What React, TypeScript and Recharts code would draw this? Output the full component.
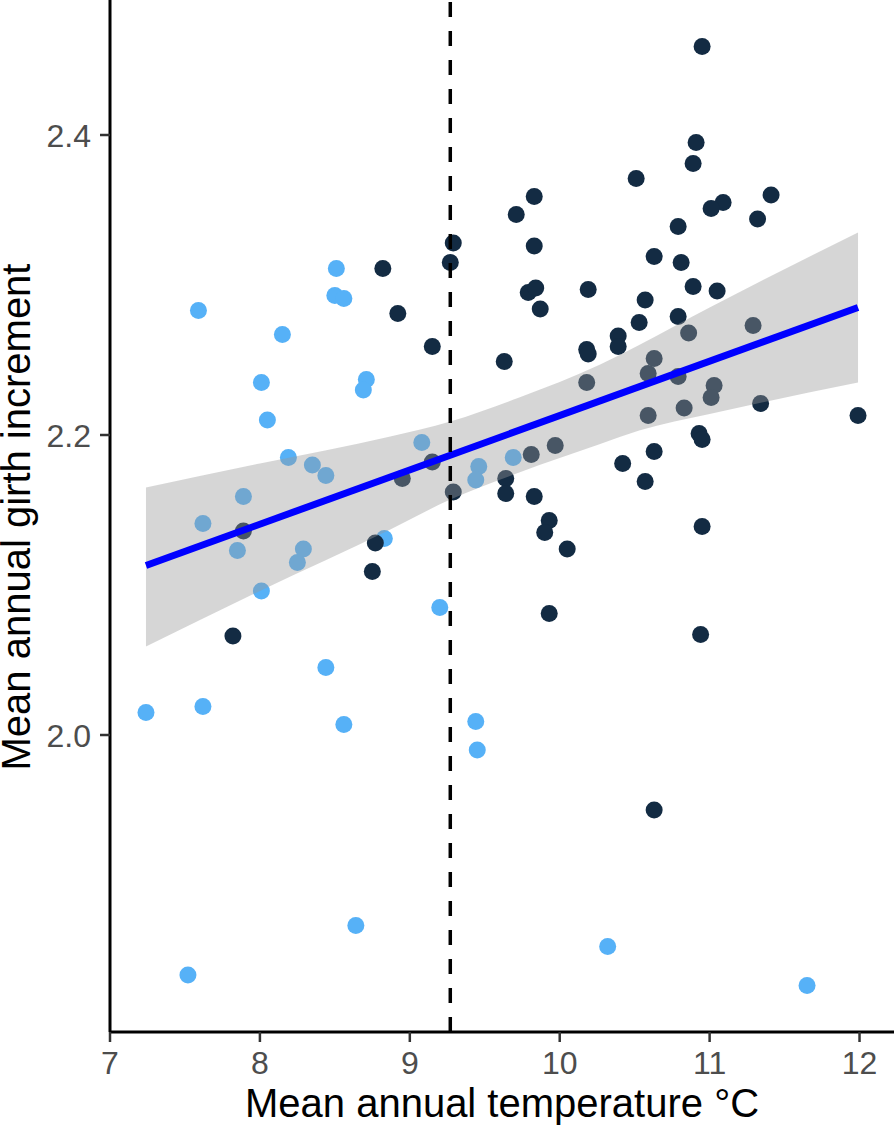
import { Area, ComposedChart, Label, Line, ReferenceLine, Scatter, XAxis, YAxis } from 'recharts'

// sites below the threshold temperature (light) and above it (dark)
const coolTemp = [7.59, 8.51, 8.5, 8.56, 8.15, 8.01, 8.71, 8.69, 8.05, 8.19, 8.35, 8.44, 7.89, 7.62, 7.85, 8.29, 8.25, 8.83, 8.01, 8.44, 7.24, 7.62, 8.56, 9.2, 9.44, 9.45, 8.64, 7.52, 10.32, 11.65, 9.08, 9.46, 9.44, 9.69]
const coolGirth = [2.283, 2.311, 2.293, 2.291, 2.267, 2.235, 2.237, 2.23, 2.21, 2.185, 2.18, 2.173, 2.159, 2.141, 2.123, 2.124, 2.115, 2.131, 2.096, 2.045, 2.015, 2.019, 2.007, 2.085, 2.009, 1.99, 1.873, 1.84, 1.859, 1.833, 2.195, 2.179, 2.17, 2.185]

const warmTemp = [10.95, 10.91, 10.89, 10.51, 11.41, 11.09, 11.01, 11.32, 10.79, 10.63, 10.81, 10.89, 11.05, 10.57, 10.53, 10.79, 10.39, 10.39, 10.86, 11.29, 9.83, 9.71, 9.29, 9.27, 9.83, 8.82, 8.92, 9.79, 9.84, 9.87, 10.19, 9.15, 9.63, 10.18, 10.19, 10.18, 10.63, 10.59, 10.59, 9.97, 9.81, 9.15, 8.95, 10.42, 10.63, 10.57, 9.64, 9.64, 9.29, 9.83, 10.79, 11.03, 11.01, 10.83, 11.34, 11.99, 10.93, 10.95, 10.95, 10.94, 7.89, 8.77, 8.75, 7.82, 9.93, 9.9, 10.05, 9.93, 10.63]
const warmGirth = [2.459, 2.395, 2.381, 2.371, 2.36, 2.355, 2.351, 2.344, 2.339, 2.319, 2.315, 2.299, 2.296, 2.29, 2.275, 2.279, 2.266, 2.259, 2.268, 2.273, 2.359, 2.347, 2.328, 2.315, 2.326, 2.311, 2.281, 2.295, 2.298, 2.284, 2.297, 2.259, 2.249, 2.257, 2.254, 2.235, 2.251, 2.241, 2.213, 2.193, 2.187, 2.182, 2.171, 2.181, 2.189, 2.169, 2.171, 2.161, 2.162, 2.159, 2.239, 2.233, 2.225, 2.218, 2.221, 2.213, 2.201, 2.197, 2.139, 2.067, 2.136, 2.128, 2.109, 2.066, 2.143, 2.135, 2.124, 2.081, 1.95]

// linear fit and its confidence band
const bandTemp = [7.24, 8.0, 8.87, 9.27, 9.73, 10.27, 10.53, 11.0, 11.99]
const bandLow = [2.059, 2.096, 2.137, 2.157, 2.175, 2.194, 2.203, 2.214, 2.235]
const bandHigh = [2.165, 2.181, 2.199, 2.209, 2.225, 2.247, 2.26, 2.285, 2.335]
const fitTemp = [7.24, 11.99]
const fitGirth = [2.113, 2.285]

const threshold = 9.27
const xTicks = [7, 8, 9, 10, 11, 12]
const yTicks = [2.0, 2.2, 2.4]

const cool = coolTemp.map((t, i) => ({ x: t, y: coolGirth[i] }))
const warm = warmTemp.map((t, i) => ({ x: t, y: warmGirth[i] }))
const table = bandTemp.map((t, i) => {
  const k = fitTemp.indexOf(t)
  return { x: t, band: [bandLow[i], bandHigh[i]], fit: k >= 0 ? fitGirth[k] : null }
})

const FONT = '"Liberation Sans", Arial, Helvetica, sans-serif'

function Dot(color: string) {
  return (p: any) => <circle cx={p.cx} cy={p.cy} r={8.5} fill={color} />
}

function XTick({ x, payload }: any) {
  return (
    <text x={x} y={1074} textAnchor="middle" fontSize={32} fill="#4D4D4D" fontFamily={FONT}>
      {payload.value}
    </text>
  )
}

function YTick({ y, payload }: any) {
  return (
    <text x={91} y={y + 11.5} textAnchor="end" fontSize={32} fill="#4D4D4D" fontFamily={FONT}>
      {payload.value.toFixed(1)}
    </text>
  )
}

export default function App() {
  return (
    <div style={{ position: 'absolute', left: 0, top: 0, background: '#fff' }}>
      <ComposedChart width={894} height={1127} data={table} margin={{ top: 0, right: 0, bottom: 0, left: 0 }}>
        <XAxis
          type="number"
          dataKey="x"
          domain={[7.0, 12.23]}
          ticks={xTicks}
          allowDataOverflow
          height={95}
          axisLine={{ stroke: '#000', strokeWidth: 3 }}
          tickLine={{ stroke: '#333', strokeWidth: 2.5 }}
          tickSize={10}
          tick={<XTick />}
        >
          <Label
            content={() => (
              <text x={502} y={1117} textAnchor="middle" fontSize={40} fill="#000" fontFamily={FONT}>
                Mean annual temperature °C
              </text>
            )}
          />
        </XAxis>
        <YAxis
          type="number"
          domain={[1.802, 2.49]}
          ticks={yTicks}
          allowDataOverflow
          width={110}
          axisLine={{ stroke: '#000', strokeWidth: 3 }}
          tickLine={{ stroke: '#333', strokeWidth: 2.5 }}
          tickSize={10}
          tick={<YTick />}
        >
          <Label
            content={() => (
              <text
                x={30}
                y={517}
                transform="rotate(-90 30 517)"
                textAnchor="middle"
                fontSize={40}
                fill="#000"
                fontFamily={FONT}
              >
                Mean annual girth increment
              </text>
            )}
          />
        </YAxis>
        <Scatter data={cool} dataKey="y" shape={Dot('#56B1F7')} isAnimationActive={false} zIndex={50} />
        <Scatter data={warm} dataKey="y" shape={Dot('#132B43')} isAnimationActive={false} zIndex={50} />
        <Area
          dataKey="band"
          type="monotone"
          fill="#999999"
          fillOpacity={0.4}
          stroke="none"
          isAnimationActive={false}
          zIndex={100}
        />
        <Line
          dataKey="fit"
          connectNulls
          stroke="#0000FF"
          strokeWidth={7}
          dot={false}
          activeDot={false}
          isAnimationActive={false}
          zIndex={400}
        />
        <ReferenceLine x={threshold} stroke="#000" strokeWidth={3.5} strokeDasharray="15 14" zIndex={500} />
      </ComposedChart>
    </div>
  )
}
